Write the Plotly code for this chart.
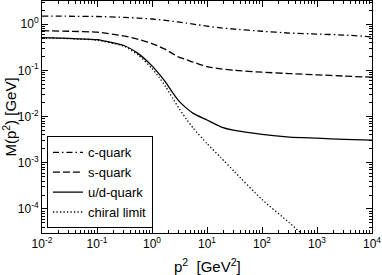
import plotly.graph_objects as go

# p^2 sample positions [GeV^2]
p2 = [0.01, 0.0316, 0.1, 0.316, 0.562, 1.0, 1.33, 1.78, 2.37, 3.16, 4.22, 5.62, 10.0,
      17.8, 31.6, 100.0, 316.0, 1000.0, 3162.0, 10000.0]

m_c = [1.49, 1.48, 1.46, 1.40, 1.35, 1.29, 1.25, 1.20, 1.15, 1.10, 1.05, 1.00, 0.90,
       0.83, 0.78, 0.70, 0.64, 0.61, 0.58, 0.53]
m_s = [0.72, 0.70, 0.67, 0.55, 0.47, 0.38, 0.33, 0.28, 0.23, 0.19, 0.17, 0.15, 0.12,
       0.107, 0.10, 0.091, 0.085, 0.080, 0.075, 0.071]
m_ud = [0.51, 0.49, 0.46, 0.34, 0.23, 0.125, 0.085, 0.055, 0.033, 0.021, 0.0152, 0.0117, 0.0084,
        0.0060, 0.0050, 0.0041, 0.0036, 0.0034, 0.0032, 0.0031]
m_chiral = [0.50, 0.485, 0.45, 0.33, 0.215, 0.11, 0.072, 0.044, 0.025, 0.0145, 0.0088, 0.0056, 0.0026,
            0.0013, 6.4e-4, 1.6e-4, 5.0e-5, 1.5e-5, 4.5e-6, 1.4e-6]

names = ["c-quark", "s-quark", "u/d-quark", "chiral limit"]
series = [m_c, m_s, m_ud, m_chiral]
dashes = ["6px,3px,1.5px,3px", "7px,3px", "solid", "1.3px,2.2px"]

x_tickvals = [1e-2, 1e-1, 1, 10, 100, 1000, 10000]
x_ticktext = ["10<sup>-2</sup>", "10<sup>-1</sup>", "10<sup>0</sup>", "10<sup>1</sup>",
              "10<sup>2</sup>", "10<sup>3</sup>", "10<sup>4</sup>"]
y_tickvals = [1e-4, 1e-3, 1e-2, 1e-1, 1]
y_ticktext = ["10<sup>-4</sup>", "10<sup>-3</sup>", "10<sup>-2</sup>", "10<sup>-1</sup>", "10<sup>0</sup>"]

x_title = "p<sup>2</sup>\u00a0\u00a0[GeV<sup>2</sup>]"
y_title = "M(p<sup>2</sup>) [GeV]"

FONT = "Liberation Sans, Arial, sans-serif"

def minor_vals(lo, hi):
    out = []
    for e in range(lo, hi + 1):
        for k in range(2, 10):
            out.append(k * 10 ** e)
    return out

fig = go.Figure()
for n, m, d in zip(names, series, dashes):
    fig.add_trace(go.Scatter(
        x=p2, y=m, name=n, mode="lines",
        line=dict(color="black", width=1.3, dash=d, shape="spline", smoothing=0.5),
    ))

axis_common = dict(
    type="log", showgrid=False, zeroline=False, showline=True, linecolor="black",
    linewidth=1, mirror="ticks", ticks="inside", ticklen=6, tickcolor="black",
    tickmode="array", tickfont=dict(family=FONT, size=12, color="black"),
    automargin=False,
)

fig.update_xaxes(
    **axis_common, range=[-2, 4], tickvals=x_tickvals, ticktext=x_ticktext,
    minor=dict(ticks="inside", ticklen=3, tickcolor="black", tickmode="array",
               tickvals=minor_vals(-2, 3), showgrid=False),
)
fig.update_yaxes(
    **axis_common, range=[-4.52, 0.5], tickvals=y_tickvals, ticktext=y_ticktext,
    minor=dict(ticks="inside", ticklen=3, tickcolor="black", tickmode="array",
               tickvals=minor_vals(-5, 0), showgrid=False),
    title=dict(text=y_title, standoff=2,
               font=dict(family=FONT, size=15, color="black")),
)

fig.add_annotation(
    text=x_title, xref="paper", yref="paper", x=0.5, y=0,
    xanchor="center", yanchor="top", yshift=-21, showarrow=False,
    font=dict(family=FONT, size=15, color="black"),
)

fig.update_layout(
    width=382, height=275,
    margin=dict(l=42, r=10, t=1, b=42, autoexpand=False),
    plot_bgcolor="white", paper_bgcolor="white",
    font=dict(family=FONT, color="black"),
    legend=dict(x=0.015, y=0.02, xanchor="left", yanchor="bottom",
                bgcolor="white", bordercolor="black", borderwidth=1,
                font=dict(family=FONT, size=13, color="black"), itemwidth=30,
                tracegroupgap=0),
    showlegend=True,
)

fig.write_html("out.html",
               config={"displayModeBar": False},
               post_script="document.body.style.margin='0';document.body.style.overflow='hidden';")
